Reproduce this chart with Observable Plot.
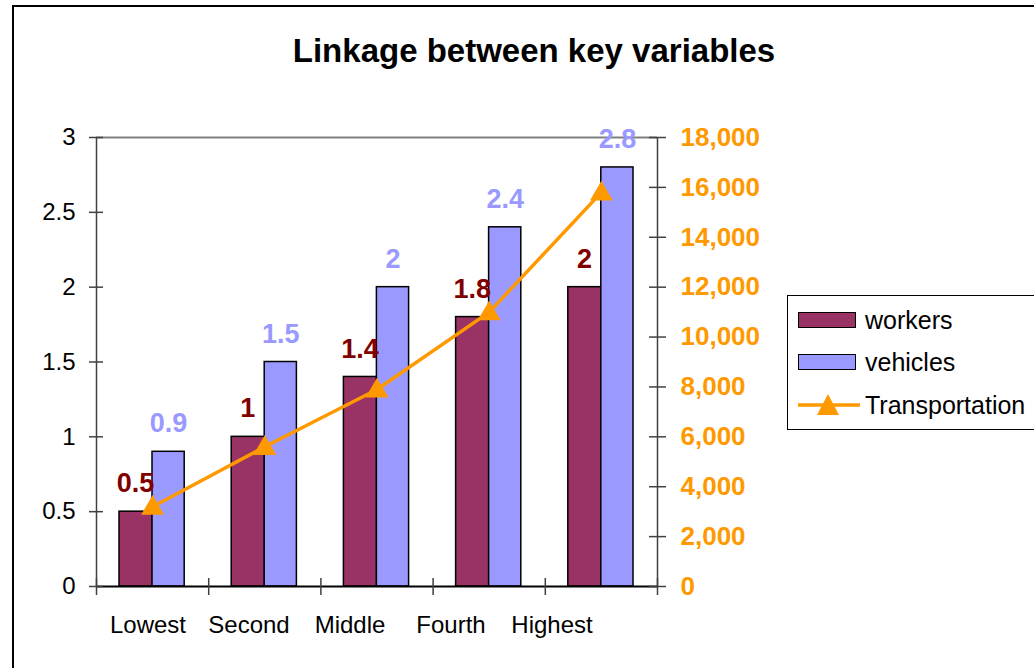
<!DOCTYPE html>
<html>
<head>
<meta charset="utf-8">
<script src="https://cdn.jsdelivr.net/npm/d3@7"></script>
<script src="https://cdn.jsdelivr.net/npm/@observablehq/plot@0.6"></script>
<style>
  html, body { margin: 0; padding: 0; background: #fff; overflow: hidden; }
  body { width: 1034px; height: 668px; position: relative; font-family: "Liberation Sans", Arial, sans-serif; }
  #frame { position: absolute; left: 12px; top: 5px; width: 1100px; height: 700px; border-left: 2px solid #000; border-top: 2px solid #000; }
  #title { position: absolute; left: 0; width: 1068px; top: 34px; line-height: 33px; text-align: center; font-weight: bold; font-size: 33px; color: #000; }
  .layer { position: absolute; left: 0; top: 0; }
  #legend { position: absolute; left: 787px; top: 295px; width: 280px; height: 133px; border: 1.5px solid #000; background: #fff; }
  .item { position: absolute; left: 10px; height: 30px; display: flex; align-items: center; font-size: 25px; color: #000; white-space: nowrap; }
  .sw { width: 56px; height: 14px; border: 1.5px solid #000; margin-right: 9px; }
</style>
</head>
<body>
<div id="frame"></div>
<div id="title">Linkage between key variables</div>
<div id="chart" class="layer"></div>
<div id="cats" class="layer"></div>
<div id="legend"></div>
<script>
// ---- data ----
const categories = ["Lowest", "Second", "Middle", "Fourth", "Highest"];
const workers = [0.5, 1, 1.4, 1.8, 2];
const vehicles = [0.9, 1.5, 2, 2.4, 2.8];
const transportation = [3200, 5600, 7900, 11000, 15800];
const leftTicks = [0, 0.5, 1, 1.5, 2, 2.5, 3];
const rightTicks = [0, 2000, 4000, 6000, 8000, 10000, 12000, 14000, 16000, 18000];
const seriesNames = ["workers", "vehicles", "Transportation"];
const colors = {workers: "#993366", vehicles: "#9999FF", transport: "#FF9900", workersLabel: "#800000"};
const ratio = 6000; // right axis (18,000) mapped onto left axis (3)

const rows = categories.map((c, i) => ({category: c, i, workers: workers[i], vehicles: vehicles[i], transport: transportation[i]}));
const fmtL = d3.format(",");

const font = "Liberation Sans, Arial, sans-serif";

const chart = Plot.plot({
  width: 1034,
  height: 668,
  marginLeft: 96,
  marginRight: 377,
  marginTop: 137,
  marginBottom: 82,
  style: {fontFamily: font, fontSize: "24px", background: "transparent", color: "#000", overflow: "visible"},
  x: {type: "linear", domain: [0, categories.length], axis: null},
  y: {domain: [0, 3], axis: null},
  marks: [
    Plot.ruleY([3], {stroke: "#808080", strokeWidth: 2}),
    Plot.rect(rows, {x1: "i", x2: d => d.i + 1, y1: 0, y2: "workers", fill: colors.workers, stroke: "#000", strokeWidth: 1.5, insetLeft: 23, insetRight: 56}),
    Plot.rect(rows, {x1: "i", x2: d => d.i + 1, y1: 0, y2: "vehicles", fill: colors.vehicles, stroke: "#000", strokeWidth: 1.5, insetLeft: 56, insetRight: 24}),
    // axis lines
    Plot.ruleX([0], {stroke: "#404040", strokeWidth: 1.5}),
    Plot.ruleX([categories.length], {stroke: "#404040", strokeWidth: 1.5}),
    Plot.ruleY([0], {stroke: "#000", strokeWidth: 2}),
    // crossing tick marks
    Plot.ruleY(leftTicks, {y: d => d, x1: 0, x2: 0, insetLeft: -7, insetRight: -7, stroke: "#404040", strokeWidth: 1.5}),
    Plot.ruleY(rightTicks, {y: d => d / ratio, x1: categories.length, x2: categories.length, insetLeft: -8, insetRight: -9, stroke: "#404040", strokeWidth: 1.5}),
    Plot.ruleX(d3.range(categories.length + 1), {x: d => d, y1: 0, y2: 0, insetTop: -8, insetBottom: -9, stroke: "#404040", strokeWidth: 1.5}),
    // axis texts
    Plot.axisY({anchor: "left", ticks: leftTicks, tickSize: 0, tickPadding: 21, tickFormat: d => String(d), fontSize: 24, fill: "#000", label: null}),
    Plot.axisY({anchor: "right", ticks: rightTicks.map(v => v / ratio), tickSize: 0, tickPadding: 23, tickFormat: d => fmtL(Math.round(d * ratio)), fontSize: 26, fontWeight: "bold", fill: colors.transport, label: null}),
    // line
    Plot.line(rows, {x: d => d.i + 0.5, y: d => d.transport / ratio, stroke: colors.transport, strokeWidth: 3.5}),
    Plot.dot(rows, {x: d => d.i + 0.5, y: d => d.transport / ratio, symbol: "triangle", r: 8.5, fill: colors.transport, stroke: "none", dy: 1.5}),
    // value labels
    Plot.text(rows, {x: d => d.i + 0.5, y: "workers", text: d => String(d.workers), dx: -17, dy: -28, fill: colors.workersLabel, fontWeight: "bold", fontSize: 27}),
    Plot.text(rows, {x: d => d.i + 0.5, y: "vehicles", text: d => String(d.vehicles), dx: 16, dy: -28, fill: colors.vehicles, fontWeight: "bold", fontSize: 27})
  ]
});
document.getElementById("chart").appendChild(chart);

// category labels (as drawn in the reference, spaced slightly tighter than the bars)
const cats = Plot.plot({
  width: 1034,
  height: 668,
  marginLeft: 96,
  marginRight: 432,
  marginTop: 137,
  marginBottom: 82,
  style: {fontFamily: font, fontSize: "24px", background: "transparent", color: "#000", overflow: "visible"},
  x: {type: "band", domain: categories, padding: 0, axis: null},
  y: {domain: [0, 3], axis: null},
  marks: [
    Plot.axisX({anchor: "bottom", tickSize: 0, tickPadding: 29, fontSize: 24, fill: "#000", label: null})
  ]
});
document.getElementById("cats").appendChild(cats);

// legend
const legend = document.getElementById("legend");
const legendRows = [
  {name: seriesNames[0], kind: "box", color: colors.workers, top: 9},
  {name: seriesNames[1], kind: "box", color: colors.vehicles, top: 51},
  {name: seriesNames[2], kind: "line", color: colors.transport, top: 94}
];
for (const r of legendRows) {
  const it = document.createElement("div");
  it.className = "item";
  it.style.top = r.top + "px";
  if (r.kind === "box") {
    const sw = document.createElement("div");
    sw.className = "sw";
    sw.style.background = r.color;
    it.appendChild(sw);
  } else {
    const ns = "http://www.w3.org/2000/svg";
    const s = document.createElementNS(ns, "svg");
    s.setAttribute("width", "67");
    s.setAttribute("height", "30");
    const ln = document.createElementNS(ns, "line");
    ln.setAttribute("x1", "0"); ln.setAttribute("x2", "62");
    ln.setAttribute("y1", "15"); ln.setAttribute("y2", "15");
    ln.setAttribute("stroke", r.color); ln.setAttribute("stroke-width", "3.5");
    const tri = document.createElementNS(ns, "path");
    tri.setAttribute("d", "M30,4 L41,25 L19,25 Z");
    tri.setAttribute("fill", r.color);
    s.appendChild(ln); s.appendChild(tri);
    it.appendChild(s);
  }
  const t = document.createElement("span");
  t.textContent = r.name;
  it.appendChild(t);
  legend.appendChild(it);
}
</script>
</body>
</html>
